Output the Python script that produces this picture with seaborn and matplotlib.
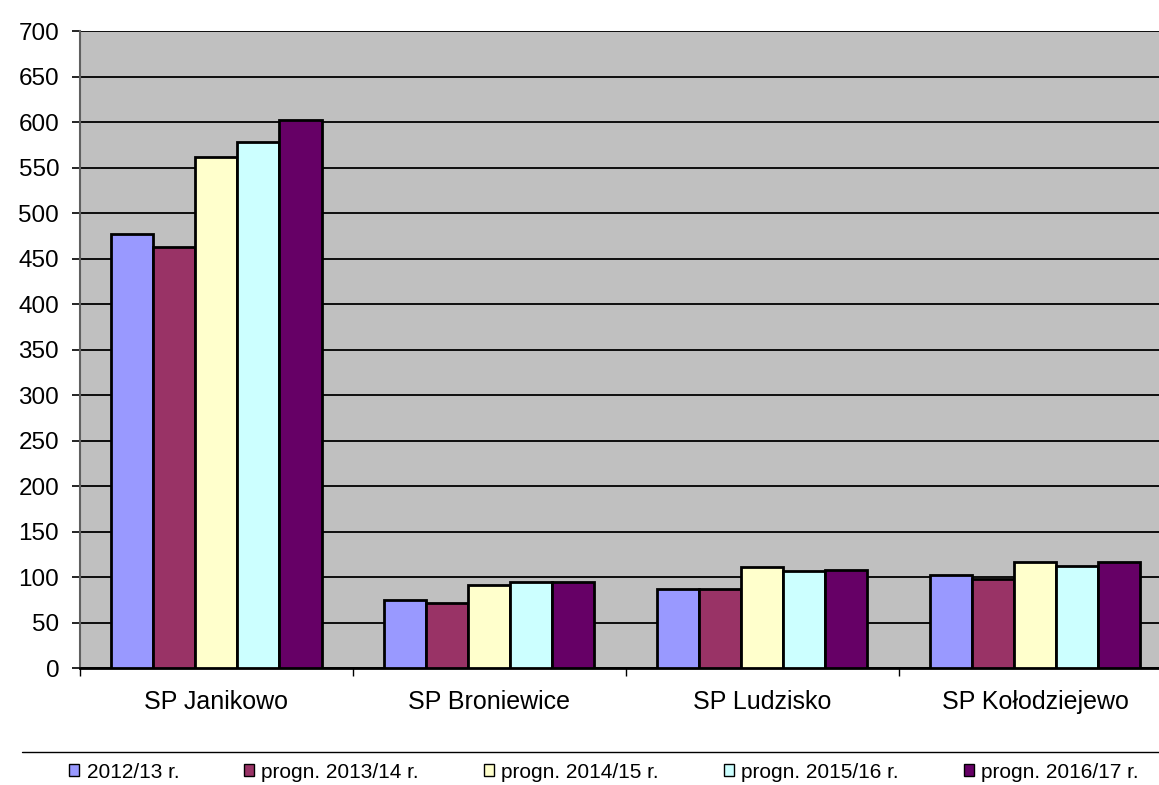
import matplotlib
matplotlib.use("Agg")
import matplotlib.pyplot as plt
import numpy as np
import pandas as pd
import seaborn as sns
from matplotlib.lines import Line2D
from matplotlib.patches import Patch

sns.set_theme(style="white")
plt.rcParams["font.family"] = ["Liberation Sans", "DejaVu Sans"]
plt.rcParams["text.color"] = "black"
plt.rcParams["xtick.color"] = "black"
plt.rcParams["ytick.color"] = "black"

# data
schools = ["SP Janikowo", "SP Broniewice", "SP Ludzisko", "SP Kołodziejewo"]
years = ["2012/13 r.", "progn. 2013/14 r.", "progn. 2014/15 r.",
         "progn. 2015/16 r.", "progn. 2016/17 r."]
v_2012 = [477, 75, 87, 102]
v_2013 = [463, 71, 87, 98]
v_2014 = [562, 91, 111, 117]
v_2015 = [578, 95, 107, 112]
v_2016 = [602, 94, 108, 116]
colors = ["#9999FF", "#993366", "#FFFFCC", "#CCFFFF", "#660066"]
y_ticks = list(range(0, 701, 50))

df = pd.DataFrame({
    "school": schools * 5,
    "year": np.repeat(years, len(schools)),
    "value": v_2012 + v_2013 + v_2014 + v_2015 + v_2016,
})

fig = plt.figure(figsize=(11.59, 7.85), dpi=100)
# plot area runs a little past the right edge, like the original
ax = fig.add_axes([0.069, 0.149, 0.942, 0.8115])
ax.set_facecolor("#C0C0C0")

sns.barplot(data=df, x="school", y="value", hue="year", hue_order=years,
            palette=colors, width=0.77, edgecolor="black", linewidth=2,
            saturation=1, ax=ax, legend=False, zorder=3)

ax.set_ylim(0, 700)
ax.set_xlim(-0.5, 3.5)
ax.set_yticks(y_ticks)
ax.yaxis.grid(True, color="black", linewidth=1.3, zorder=0)
ax.set_axisbelow(True)
ax.set_xlabel("")
ax.set_ylabel("")

# group boundary ticks below the axis
ax.set_xticks(np.arange(-0.5, 4.0, 1.0), minor=True)
ax.tick_params(axis="x", which="minor", length=6, width=1, color="black",
               direction="out", bottom=True)
ax.tick_params(axis="x", which="major", length=0, pad=16, labelsize=18,
               labelcolor="black")
ax.tick_params(axis="y", length=6, width=1.2, color="black", direction="out",
               left=True, labelsize=17.5, pad=9, labelcolor="black")

for side in ["top", "right"]:
    ax.spines[side].set_visible(False)
ax.spines["left"].set_color("#606060")
ax.spines["left"].set_linewidth(1.5)
ax.spines["bottom"].set_color("black")
ax.spines["bottom"].set_linewidth(2)

# separator line above the legend
fig.add_artist(Line2D([0.019, 1.0], [0.042, 0.042], color="black", linewidth=1))

handles = [Patch(facecolor=c, edgecolor="black", linewidth=1) for c in colors]
fig.legend(handles, years, loc="center", bbox_to_anchor=(0.521, 0.0165),
           ncol=5, frameon=False, fontsize=15, handlelength=0.5,
           handleheight=0.5, handletextpad=0.35, columnspacing=3.1,
           borderpad=0, borderaxespad=0)

fig.savefig("out.png", dpi=100, facecolor="white")
